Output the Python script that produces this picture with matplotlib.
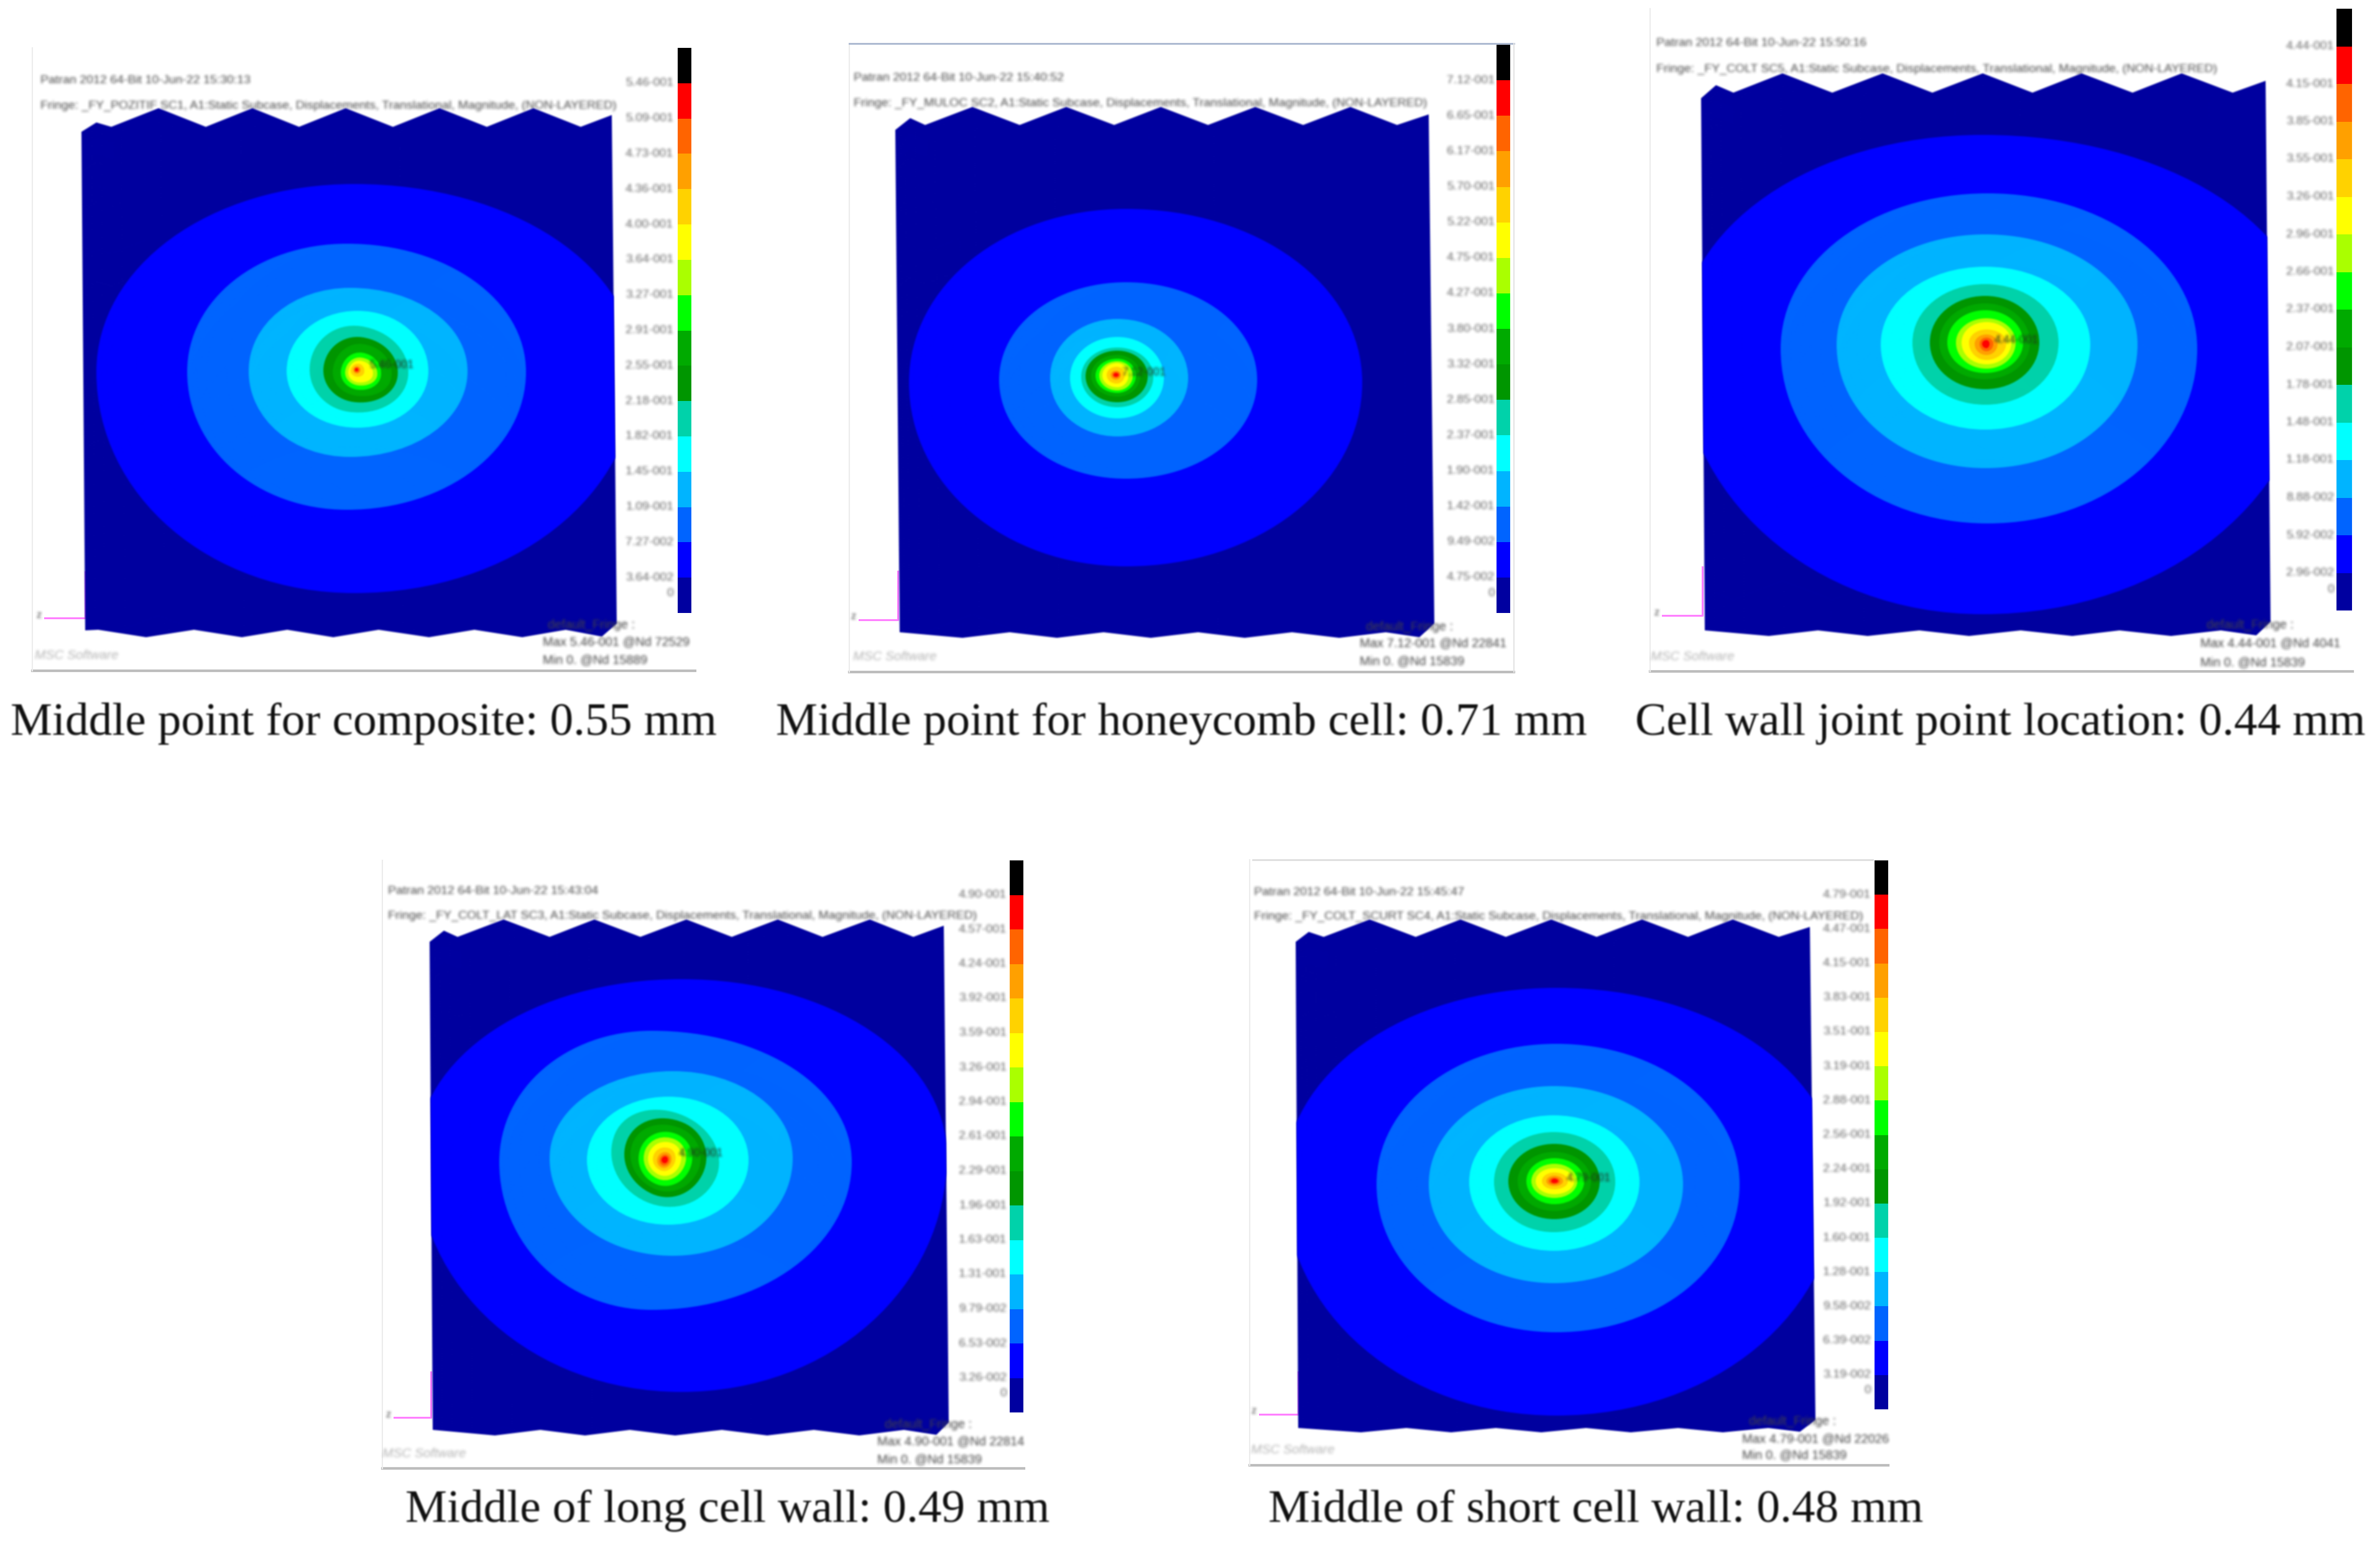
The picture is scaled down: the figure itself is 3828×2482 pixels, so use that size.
"""Five fringe plots of plate displacement (Patran screenshots) with captions."""

import matplotlib

matplotlib.use("Agg")
import matplotlib.pyplot as plt
import numpy as np
from matplotlib.colors import ListedColormap
from matplotlib.patches import PathPatch, Polygon
from matplotlib.path import Path
from matplotlib.transforms import Affine2D

# fringe colours, bottom band to top band
BANDS = ["#0000a0", "#0000ff", "#0064ff", "#00b4ff", "#00ffff", "#00d2aa", "#009600", "#00aa00",
         "#00ff00", "#aaff00", "#ffff00", "#ffd200", "#ffa000", "#ff6400", "#ff0000", "#000000"]

CAPTIONS = ["Middle point for composite: 0.55 mm", "Middle point for honeycomb cell: 0.71 mm",
            "Cell wall joint point location: 0.44 mm", "Middle of long cell wall: 0.49 mm",
            "Middle of short cell wall: 0.48 mm"]
STAMPS = ["Patran 2012 64-Bit 10-Jun-22 15:30:13", "Patran 2012 64-Bit 10-Jun-22 15:40:52",
          "Patran 2012 64-Bit 10-Jun-22 15:50:16", "Patran 2012 64-Bit 10-Jun-22 15:43:04",
          "Patran 2012 64-Bit 10-Jun-22 15:45:47"]
CASES = ["_FY_POZITIF SC1", "_FY_MULOC SC2", "_FY_COLT SC5", "_FY_COLT_LAT SC3", "_FY_COLT_SCURT SC4"]
MAX_NOTES = ["5.46-001", "7.12-001", "4.44-001", "4.90-001", "4.79-001"]
MAX_NODES = ["72529", "22841", "4041", "22814", "22026"]
MIN_NODES = ["15889", "15839", "15839", "15839", "15839"]

# colour bar labels, top to bottom
LEVELS_1 = ["5.46-001", "5.09-001", "4.73-001", "4.36-001", "4.00-001", "3.64-001", "3.27-001", "2.91-001",
            "2.55-001", "2.18-001", "1.82-001", "1.45-001", "1.09-001", "7.27-002", "3.64-002", "0"]
LEVELS_2 = ["7.12-001", "6.65-001", "6.17-001", "5.70-001", "5.22-001", "4.75-001", "4.27-001", "3.80-001",
            "3.32-001", "2.85-001", "2.37-001", "1.90-001", "1.42-001", "9.49-002", "4.75-002", "0"]
LEVELS_3 = ["4.44-001", "4.15-001", "3.85-001", "3.55-001", "3.26-001", "2.96-001", "2.66-001", "2.37-001",
            "2.07-001", "1.78-001", "1.48-001", "1.18-001", "8.88-002", "5.92-002", "2.96-002", "0"]
LEVELS_4 = ["4.90-001", "4.57-001", "4.24-001", "3.92-001", "3.59-001", "3.26-001", "2.94-001", "2.61-001",
            "2.29-001", "1.96-001", "1.63-001", "1.31-001", "9.79-002", "6.53-002", "3.26-002", "0"]
LEVELS_5 = ["4.79-001", "4.47-001", "4.15-001", "3.83-001", "3.51-001", "3.19-001", "2.88-001", "2.56-001",
            "2.24-001", "1.92-001", "1.60-001", "1.28-001", "9.58-002", "6.39-002", "3.19-002", "0"]

# plate outline: upper zigzag and lower wavy edge
TOP_X_1 = [131, 155, 179, 255, 331, 406, 481, 556, 632, 707, 783, 858, 934, 984]
TOP_Y_1 = [212, 197, 204, 174, 204, 174, 204, 174, 204, 174, 204, 174, 204, 185]
LOW_X_1 = [992, 968, 910, 840, 763, 690, 609, 536, 462, 389, 312, 235, 158, 137]
LOW_Y_1 = [1003, 1024, 1013, 1025, 1013, 1025, 1013, 1025, 1013, 1025, 1013, 1025, 1013, 1014]
TOP_X_2 = [1440, 1464, 1488, 1564, 1640, 1715, 1792, 1867, 1943, 2019, 2096, 2172, 2247, 2298]
TOP_Y_2 = [209, 190, 201, 172, 201, 172, 201, 172, 201, 172, 201, 172, 201, 184]
LOW_X_2 = [2307, 2283, 2229, 2154, 2078, 2002, 1927, 1851, 1775, 1700, 1624, 1548, 1447]
LOW_Y_2 = [1003, 1025, 1017, 1026, 1017, 1026, 1017, 1026, 1017, 1026, 1017, 1026, 1017]
TOP_X_3 = [2736, 2760, 2788, 2867, 2947, 3028, 3108, 3189, 3269, 3348, 3430, 3509, 3591, 3644]
TOP_Y_3 = [158, 137, 149, 118, 149, 118, 149, 118, 149, 118, 149, 118, 149, 130]
LOW_X_3 = [3652, 3629, 3572, 3492, 3409, 3333, 3250, 3167, 3087, 3004, 2924, 2845, 2742]
LOW_Y_3 = [1000, 1022, 1014, 1023, 1014, 1023, 1014, 1023, 1014, 1023, 1014, 1023, 1014]
TOP_X_4 = [691, 714, 736, 810, 884, 956, 1030, 1104, 1177, 1251, 1323, 1399, 1469, 1518]
TOP_Y_4 = [1515, 1497, 1507, 1479, 1507, 1479, 1507, 1479, 1507, 1479, 1507, 1479, 1507, 1489]
LOW_X_4 = [1526, 1506, 1454, 1382, 1309, 1234, 1161, 1086, 1013, 941, 869, 796, 696]
LOW_Y_4 = [2288, 2308, 2300, 2309, 2300, 2309, 2300, 2309, 2300, 2309, 2300, 2309, 2300]
TOP_X_5 = [2084, 2105, 2129, 2203, 2277, 2349, 2422, 2495, 2568, 2641, 2715, 2787, 2861, 2911]
TOP_Y_5 = [1515, 1499, 1507, 1479, 1507, 1479, 1507, 1479, 1507, 1479, 1507, 1479, 1507, 1491]
LOW_X_5 = [2920, 2895, 2844, 2771, 2699, 2623, 2551, 2479, 2406, 2334, 2262, 2189, 2088]
LOW_Y_5 = [2284, 2303, 2297, 2304, 2297, 2304, 2297, 2304, 2297, 2304, 2297, 2304, 2297]

# contour bands, outermost first: left, right, top, bottom, x of top/bottom point, y of side points
RINGS_1 = [(155, 1024, 296, 954, 570, 598), (301, 846, 392, 820, 558, 598), (400, 752, 463, 735, 563, 597),
           (461, 689, 500, 688, 575, 597), (498, 657, 524, 663, 570, 595), (520, 640, 542, 647, 575, 597),
           (535, 630, 553, 637, 578, 600), (548, 613, 567, 627, 578, 600), (555, 607, 575, 620, 578, 600),
           (560, 600, 580, 615, 577, 600), (564, 586, 585, 606, 575, 597), (568, 580, 589, 601, 574, 595),
           (570, 578, 591, 599, 574, 595), (571, 576, 592, 597, 573, 595)]
RINGS_2 = [(1462, 2191, 336, 911, 1811, 615), (1607, 2022, 454, 770, 1811, 611), (1689, 1911, 513, 702, 1797, 608),
           (1721, 1872, 542, 673, 1797, 608), (1739, 1855, 559, 655, 1797, 606), (1746, 1846, 564, 647, 1797, 605),
           (1755, 1834, 571, 638, 1797, 604), (1762, 1827, 577, 632, 1797, 604), (1768, 1822, 581, 628, 1797, 604),
           (1773, 1815, 584, 623, 1797, 604), (1780, 1809, 590, 617, 1796, 603), (1786, 1803, 596, 611, 1795, 603),
           (1789, 1801, 598, 608, 1795, 603), (1791, 1799, 600, 606, 1795, 603)]
RINGS_3 = [(2700, 3720, 217, 988, 3189, 554), (2864, 3534, 311, 842, 3197, 561), (2954, 3438, 377, 753, 3193, 554),
           (3025, 3362, 429, 691, 3193, 554), (3076, 3311, 457, 651, 3193, 551), (3104, 3280, 476, 626, 3193, 551),
           (3119, 3265, 488, 610, 3193, 551), (3132, 3254, 499, 600, 3193, 551), (3146, 3242, 512, 593, 3195, 551),
           (3155, 3235, 518, 586, 3195, 551), (3167, 3227, 530, 579, 3195, 551), (3176, 3213, 538, 571, 3195, 553),
           (3184, 3206, 543, 565, 3195, 553), (3188, 3200, 547, 560, 3195, 553)]
RINGS_4 = [(670, 1523, 1575, 2239, 1096, 1859), (803, 1370, 1658, 2107, 1048, 1869), (884, 1275, 1723, 2020, 1082, 1863),
           (944, 1204, 1764, 1970, 1075, 1866), (982, 1159, 1789, 1940, 1072, 1859), (1003, 1136, 1801, 1926, 1075, 1862),
           (1013, 1127, 1811, 1917, 1075, 1862), (1027, 1113, 1821, 1908, 1072, 1864), (1035, 1103, 1830, 1899, 1072, 1864),
           (1042, 1095, 1837, 1892, 1071, 1865), (1050, 1086, 1846, 1884, 1070, 1865), (1057, 1080, 1853, 1879, 1069, 1866),
           (1061, 1077, 1857, 1875, 1069, 1866), (1064, 1074, 1860, 1871, 1069, 1866)]
RINGS_5 = [(2065, 2957, 1589, 2277, 2503, 1901), (2214, 2798, 1679, 2143, 2503, 1905), (2298, 2707, 1747, 2064, 2499, 1905),
           (2363, 2637, 1794, 2012, 2499, 1901), (2403, 2598, 1821, 1982, 2499, 1901), (2426, 2573, 1840, 1961, 2500, 1900),
           (2441, 2559, 1853, 1948, 2500, 1900), (2455, 2548, 1863, 1937, 2500, 1900), (2463, 2537, 1872, 1927, 2500, 1900),
           (2470, 2532, 1879, 1921, 2500, 1900), (2480, 2522, 1886, 1913, 2500, 1900), (2487, 2514, 1891, 1908, 2500, 1900),
           (2491, 2509, 1894, 1905, 2500, 1900), (2495, 2506, 1896, 1903, 2500, 1900)]
# lean of the inner green and yellow contours, degrees clockwise
TILTS = [8, 0, 0, 24, 0]

KAPPA = 0.56
SANS = "Liberation Sans"
SERIF = "Liberation Serif"


def _soften(sigma):
    """agg filter: two box blurs, so the sharp vector marks get the screenshot's softness."""
    size = max(int(sigma * 2), 1) | 1
    pad = size + 1

    def box(a, axis):
        c = np.cumsum(a, axis=axis)
        c = np.moveaxis(c, axis, 0)
        half = size // 2
        n = c.shape[0]
        hi = np.minimum(np.arange(n) + half, n - 1)
        lo = np.arange(n) - half - 1
        out = c[hi].copy()
        out[lo >= 0] -= c[lo[lo >= 0]]
        return np.moveaxis(out / size, 0, axis)

    def apply(img, dpi):
        rgba = np.pad(img.astype(float), ((pad, pad), (pad, pad), (0, 0)))
        rgba[..., :3] *= rgba[..., 3:]
        for _ in range(2):
            rgba = box(box(rgba, 0), 1)
        alpha = np.clip(rgba[..., 3:], 1e-6, 1)
        rgba[..., :3] = np.clip(rgba[..., :3] / alpha, 0, 1)
        rgba[..., 3:] = np.clip(rgba[..., 3:], 0, 1)
        return rgba, -pad, -pad

    return apply


def _ring_path(left, right, top, bottom, cx, cy):
    # four cubic arcs through the extremes
    verts = [(left, cy),
             (left, cy - KAPPA * (cy - top)), (cx - KAPPA * (cx - left), top), (cx, top),
             (cx + KAPPA * (right - cx), top), (right, cy - KAPPA * (cy - top)), (right, cy),
             (right, cy + KAPPA * (bottom - cy)), (cx + KAPPA * (right - cx), bottom), (cx, bottom),
             (cx - KAPPA * (cx - left), bottom), (left, cy + KAPPA * (bottom - cy)), (left, cy)]
    codes = [Path.MOVETO] + [Path.CURVE4] * 12
    return Path(verts, codes)


def _small(ax, x, y, s, ha="left", size=14, color="#4a4a4a", style="normal"):
    t = ax.text(x, y, s, ha=ha, va="center", fontsize=size, color=color, family=SANS, style=style)
    t.set_agg_filter(_soften(2.2))
    return t


def draw_panel(ax, i, top_x, top_y, low_x, low_y, rings, levels, frame, bar, stamp_xy, fringe_xy, level_x,
               note_xy, default_xy, minmax_x, minmax_y, axis_xy, logo_xy):
    plate = Polygon(list(zip(top_x, top_y)) + list(zip(low_x, low_y)), closed=True, fc=BANDS[0], ec="none", zorder=2)
    ax.add_patch(plate)
    plate.set_agg_filter(_soften(1.5))

    clip = Polygon(list(zip(top_x, top_y)) + list(zip(low_x, low_y)), closed=True, transform=ax.transData)
    for k, (ring, colour) in enumerate(zip(rings, BANDS[1:])):
        path = _ring_path(*ring)
        if k >= 4:
            path = path.transformed(Affine2D().rotate_deg_around(ring[4], ring[5], TILTS[i]))
        p = PathPatch(path, fc=colour, ec="none", zorder=3)
        ax.add_patch(p)
        p.set_clip_path(clip)
        p.set_agg_filter(_soften(1.5))

    # frame of the screenshot
    x0, x1, y0, y1 = frame
    ax.plot([x0, x1], [y1, y1], color="#bdbdbd", lw=3, zorder=1)
    ax.plot([x0, x0], [y0, y1], color="#ececec", lw=1.5, zorder=1)

    # fringe colour bar
    bx0, bx1, by0, by1 = bar
    edges = np.linspace(by1, by0, len(BANDS) + 1)
    ax.pcolormesh([bx0, bx1], edges, np.arange(len(BANDS)).reshape(-1, 1),
                  cmap=ListedColormap(BANDS), vmin=-0.5, vmax=len(BANDS) - 0.5, zorder=2)
    band = (by1 - by0) / len(BANDS)
    for j, label in enumerate(levels[:-1]):
        _small(ax, level_x, by0 + band * (j + 1), label, ha="right", size=14, color="#6a6a6a")
    _small(ax, level_x, by1 - band * 0.55, levels[-1], ha="right", size=14, color="#6a6a6a")

    _small(ax, *stamp_xy, STAMPS[i])
    _small(ax, *fringe_xy, f"Fringe: {CASES[i]}, A1:Static Subcase, Displacements, Translational, "
                           "Magnitude, (NON-LAYERED)").set_zorder(1)
    _small(ax, *note_xy, MAX_NOTES[i], size=13, color="#203020").set_zorder(5)
    _small(ax, *default_xy, "default_Fringe :", size=14.5, color="#444444").set_zorder(5)
    _small(ax, minmax_x, minmax_y[0], f"Max {MAX_NOTES[i]} @Nd {MAX_NODES[i]}", size=14.5, color="#444444")
    _small(ax, minmax_x, minmax_y[1], f"Min 0. @Nd {MIN_NODES[i]}", size=14.5, color="#444444")

    # coordinate triad and software mark
    ax_x, ax_y, ax_len, ax_up = axis_xy
    ax.plot([ax_x, ax_x + ax_len, ax_x + ax_len], [ax_y, ax_y, ax_y - ax_up], color="#ff80ff", lw=2.2, zorder=1)
    _small(ax, ax_x - 5, ax_y - 5, "z", ha="right", size=12)
    _small(ax, *logo_xy, "MSC Software", size=15, color="#b5b5b5", style="italic")


def main():
    fig = plt.figure(figsize=(38.28, 24.82), dpi=100)
    ax = fig.add_axes([0, 0, 1, 1])
    ax.set_xlim(0, 3828)
    ax.set_ylim(2482, 0)
    ax.axis("off")

    draw_panel(ax, 0, TOP_X_1, TOP_Y_1, LOW_X_1, LOW_Y_1, RINGS_1, LEVELS_1, (52, 1118, 77, 1079),
               (1090, 1112, 77, 986), (65, 130), (65, 170), 1083, (594, 587), (881, 1005), 873, (1033, 1062),
               (72, 994, 65, 74), (56, 1054))
    draw_panel(ax, 1, TOP_X_2, TOP_Y_2, LOW_X_2, LOW_Y_2, RINGS_2, LEVELS_2, (1366, 2435, 70, 1081),
               (2407, 2429, 72, 986), (1373, 126), (1373, 166), 2404, (1804, 600), (2197, 1008), 2187, (1035, 1064),
               (1382, 997, 62, 78), (1372, 1056))
    ax.plot([1366, 2435], [70, 70], color="#a9b7cf", lw=2, zorder=1)
    ax.plot([2435, 2435], [70, 1081], color="#e4e4e4", lw=1.5, zorder=1)
    draw_panel(ax, 2, TOP_X_3, TOP_Y_3, LOW_X_3, LOW_Y_3, RINGS_3, LEVELS_3, (2654, 3784, 14, 1080),
               (3758, 3783, 14, 982), (2664, 69), (2664, 111), 3754, (3208, 547), (3549, 1005), 3539, (1035, 1066),
               (2674, 990, 64, 78), (2655, 1056))
    draw_panel(ax, 3, TOP_X_4, TOP_Y_4, LOW_X_4, LOW_Y_4, RINGS_4, LEVELS_4, (615, 1647, 1384, 2362),
               (1624, 1646, 1384, 2272), (624, 1433), (624, 1473), 1619, (1092, 1856), (1423, 2291), 1411, (2319, 2348),
               (634, 2280, 59, 73), (615, 2339))
    draw_panel(ax, 4, TOP_X_5, TOP_Y_5, LOW_X_5, LOW_Y_5, RINGS_5, LEVELS_5, (2010, 3037, 1383, 2357),
               (3015, 3037, 1384, 2267), (2017, 1436), (2017, 1474), 3009, (2520, 1895), (2813, 2286), 2802, (2315, 2341),
               (2026, 2275, 62, 68), (2012, 2333))
    ax.plot([2015, 3012], [1383, 1383], color="#dedede", lw=2, zorder=1)

    caption_x = [(17 + 1152) / 2, (1247 + 2553) / 2, (2631 + 3803) / 2, (652 + 1689) / 2, (2041 + 3093) / 2]
    caption_y = [1164, 1164, 1164, 2430, 2430]
    for x, y, s in zip(caption_x, caption_y, CAPTIONS):
        t = ax.text(x, y, s, ha="center", va="center", fontsize=54.3, color="#111111", family=SERIF)
        t.set_agg_filter(_soften(1.0))

    fig.savefig("out.png", dpi=100, facecolor="white")
    plt.close(fig)


main()
